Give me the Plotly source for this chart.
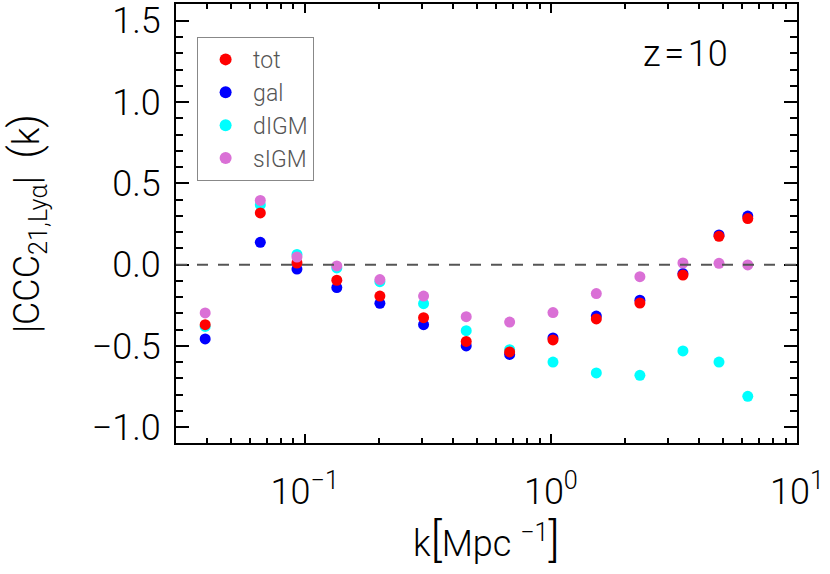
import plotly.graph_objects as go

# wavenumber bins [Mpc^-1]
k = [0.0394, 0.066, 0.093, 0.135, 0.202, 0.304, 0.453, 0.680, 1.02, 1.53, 2.30, 3.44, 4.82, 6.31]

tot = [-0.369, 0.318, 0.010, -0.096, -0.193, -0.326, -0.472, -0.537, -0.463, -0.334, -0.236, -0.064, 0.174, 0.283]
gal = [-0.457, 0.137, -0.027, -0.141, -0.238, -0.369, -0.500, -0.552, -0.451, -0.316, -0.219, -0.055, 0.183, 0.299]
dIGM = [-0.380, 0.367, 0.063, -0.020, -0.105, -0.240, -0.406, -0.523, -0.599, -0.666, -0.681, -0.531, -0.599, -0.810]
sIGM = [-0.297, 0.395, 0.047, -0.008, -0.092, -0.193, -0.320, -0.353, -0.295, -0.178, -0.074, 0.010, 0.008, -0.002]

x_tickvals = [0.1, 1, 10]
x_ticktext = ["10<sup>\u22121</sup>", "10<sup>0</sup>", "10<sup>1</sup>"]
x_minor = [0.04, 0.05, 0.06, 0.07, 0.08, 0.09,
           0.2, 0.3, 0.4, 0.5, 0.6, 0.7, 0.8, 0.9,
           2, 3, 4, 5, 6, 7, 8, 9]
y_tickvals = [-1.0, -0.5, 0.0, 0.5, 1.0, 1.5]
y_ticktext = ["\u22121.0", "\u22120.5", "0.0", "0.5", "1.0", "1.5"]

FONT = "Roboto, Lato, sans-serif"

fig = go.Figure()

# legend order is tot, gal, dIGM, sIGM; draw order keeps red over blue
series = [
    ("gal", gal, "#0000ff", 2),
    ("dIGM", dIGM, "#00ffff", 3),
    ("tot", tot, "#ff0000", 1),
    ("sIGM", sIGM, "#da70d6", 4),
]
for name, vals, color, rank in series:
    fig.add_trace(go.Scatter(x=k, y=vals, mode="markers", name=name,
                             legendrank=rank,
                             marker=dict(color=color, size=11)))

fig.add_hline(y=0, line_dash="11px,10px", line_color="#555555", line_width=2)

fig.add_annotation(x=0.82, y=0.885, xref="paper", yref="paper",
                   text="z\u200a=\u200a10", showarrow=False, xanchor="center", yanchor="middle",
                   font=dict(size=36, color="black", family=FONT, weight=300))

# x-axis title placed by hand so it sits where the original puts it
fig.add_annotation(x=0.5, y=-0.222, xref="paper", yref="paper",
                   text='k<span style="font-size:46px">[</span>Mpc <sup>\u22121</sup><span style="font-size:46px">]</span>',
                   showarrow=False, xanchor="center", yanchor="middle",
                   font=dict(size=36, color="black", family=FONT, weight=300))

fig.update_xaxes(
    type="log", range=[-1.523, 1.0],
    tickvals=x_tickvals, ticktext=x_ticktext,
    ticks="inside", ticklen=9, tickwidth=2, tickcolor="black",
    minor=dict(tickvals=x_minor, ticks="inside", ticklen=5, tickwidth=2, tickcolor="black"),
    showline=True, linewidth=2, linecolor="black", mirror="allticks",
    showgrid=False, zeroline=False, automargin=False,
    ticklabelstandoff=16,
    tickfont=dict(size=36, color="black", family=FONT, weight=300),
)
fig.update_yaxes(
    range=[-1.097, 1.603],
    tickvals=y_tickvals, ticktext=y_ticktext,
    ticks="inside", ticklen=13, tickwidth=2, tickcolor="black",
    minor=dict(dtick=0.1, ticks="inside", ticklen=7, tickwidth=2, tickcolor="black"),
    showline=True, linewidth=2, linecolor="black", mirror="allticks",
    showgrid=False, zeroline=False, automargin=False,
    ticklabelstandoff=6,
    tickfont=dict(size=36, color="black", family=FONT, weight=300),
    title=dict(text='|CCC<sub>21,Ly\u03b1</sub>|  <span style="font-size:42px">(</span>k<span style="font-size:42px">)</span>',
               font=dict(size=36, color="black", family=FONT, weight=300), standoff=50),
)

fig.update_layout(
    width=830, height=574,
    margin=dict(l=176, r=33, t=4, b=131),
    paper_bgcolor="white", plot_bgcolor="white",
    showlegend=True,
    legend=dict(x=0.034, y=0.925, xanchor="left", yanchor="top",
                bordercolor="#888888", borderwidth=1, bgcolor="white",
                font=dict(size=23, color="#555555", family=FONT, weight=300),
                itemsizing="constant", itemwidth=45, tracegroupgap=0),
)

fig.write_html("out.html", config={"displayModeBar": False},
               post_script="document.body.style.margin='0';")
